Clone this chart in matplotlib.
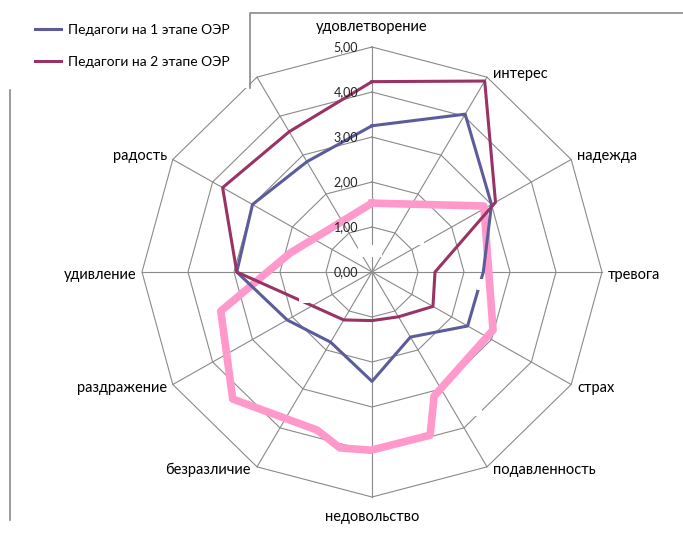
import numpy as np
import matplotlib.pyplot as plt
from matplotlib.lines import Line2D
from matplotlib.patches import Rectangle

plt.rcParams['font.family'] = ['Lato', 'DejaVu Sans']

categories = ['удовлетворение', 'интерес', 'надежда', 'тревога', 'страх',
              'подавленность', 'недовольство', 'безразличие', 'раздражение',
              'удивление', 'радость', '']
stage1 = [3.25, 4.05, 3.0, 2.42, 2.4, 1.67, 2.43, 1.8, 2.13, 2.94, 3.0, 2.83]
stage2 = [4.23, 4.9, 3.1, 1.37, 1.53, 1.15, 1.08, 1.23, 1.5, 2.94, 3.75, 3.6]
series_names = ['Педагоги на 1 этапе ОЭР', 'Педагоги на 2 этапе ОЭР']

# pink outline from an overlaid chart: angle (deg, clockwise from top) and value
pink_angles = [0, 58.9, 116.1, 153.9, 160.8, 180.3, 190.1, 198.8, 227, 255.2, 283.3]
pink_values = [1.53, 2.84, 2.93, 3.07, 3.84, 3.96, 3.97, 3.71, 4.14, 3.40, 1.83]

ticks = [0, 1, 2, 3, 4, 5]
tick_labels = ['0,00', '1,00', '2,00', '3,00', '4,00', '5,00']

W, H = 683, 533
cx, cy = 372, 272      # chart centre, pixels
sx, sy = 46, 45        # pixels per unit


def to_xy(angles_deg, values):
    a = np.radians(np.asarray(angles_deg, dtype=float))
    v = np.asarray(values, dtype=float)
    return v * np.sin(a), v * np.cos(a)


def closed(a):
    return np.append(a, a[0])


def px_rect(x, y, w, h, **kw):
    # rectangle given in image pixels (origin top-left)
    return Rectangle((x / W, 1 - (y + h) / H), w / W, h / H, transform=fig.transFigure, **kw)


fig = plt.figure(figsize=(W / 100, H / 100), dpi=100)
ax = fig.add_axes([0, 0, 1, 1])
ax.set_xlim(-cx / sx, (W - cx) / sx)
ax.set_ylim(-(H - cy) / sy, cy / sy)
ax.axis('off')

n = len(categories)
cat_angles = np.arange(n) * 360 / n
grid_col = '#8a8a8a'

# rings and spokes
for t in ticks[1:]:
    gx, gy = to_xy(cat_angles, [t] * n)
    ax.plot(closed(gx), closed(gy), color=grid_col, lw=0.8, zorder=1)
ox, oy = to_xy(cat_angles, [ticks[-1]] * n)
for x, y in zip(ox, oy):
    ax.plot([0, x], [0, y], color=grid_col, lw=0.8, zorder=1)

# value labels
for t, lab in zip(ticks, tick_labels):
    ax.text(-0.3, t, lab, ha='right', va='center', fontsize=9, color='#222222', zorder=6)

# category labels
lx, ly = to_xy(cat_angles, [ticks[-1]] * n)
for ang, x, y, lab in zip(cat_angles, lx, ly, categories):
    if ang == 0:
        ax.text(x, y + 0.45, lab, ha='center', va='center', fontsize=10.5)
    elif ang == 180:
        ax.text(x, y - 0.45, lab, ha='center', va='center', fontsize=10.5)
    elif ang < 180:
        ax.text(x + 0.13, y + (0.07 if ang < 90 else -0.07), lab, ha='left', va='center', fontsize=10.5)
    else:
        ax.text(x - 0.13, y + (0.07 if ang > 270 else -0.07), lab, ha='right', va='center', fontsize=10.5)

# series
px, py = to_xy(pink_angles, pink_values)
ax.plot(closed(px), closed(py), color='#ff99cc', lw=5.5, solid_joinstyle='round', zorder=3)

x1, y1 = to_xy(cat_angles, stage1)
l1, = ax.plot(closed(x1), closed(y1), color='#5c5c9c', lw=2.2, zorder=4, label=series_names[0])
x2, y2 = to_xy(cat_angles, stage2)
l2, = ax.plot(closed(x2), closed(y2), color='#993366', lw=2.2, zorder=4, label=series_names[1])

# small white gaps left by the overlapping chart
for r in [(358, 245, 24, 12), (413, 238, 11, 7), (299, 296, 10, 7),
          (477, 279, 6, 11), (472, 406, 10, 10)]:
    fig.add_artist(px_rect(*r, facecolor='white', edgecolor='none', zorder=5))

# white area of the overlapping chart (top-left) and stray frame lines
fig.add_artist(px_rect(0, 0, 249, 88, facecolor='white', edgecolor='none', zorder=6))
fig.add_artist(Line2D([250 / W, 250 / W, 1], [1 - 88 / H, 1 - 13 / H, 1 - 13 / H],
                      transform=fig.transFigure, color='#8a8a8a', lw=1.2, zorder=7))
fig.add_artist(Line2D([10 / W, 10 / W], [1 - 90 / H, 1 - 520 / H],
                      transform=fig.transFigure, color='#8a8a8a', lw=1.2, zorder=7))

leg = fig.legend(handles=[l1, l2], loc='upper left', bbox_to_anchor=(29 / W, 1 - 18 / H),
                 frameon=False, fontsize=10, handlelength=1.9, handletextpad=0.5,
                 labelspacing=1.45, borderaxespad=0)
leg.set_zorder(8)

fig.savefig('out.png', dpi=100)
